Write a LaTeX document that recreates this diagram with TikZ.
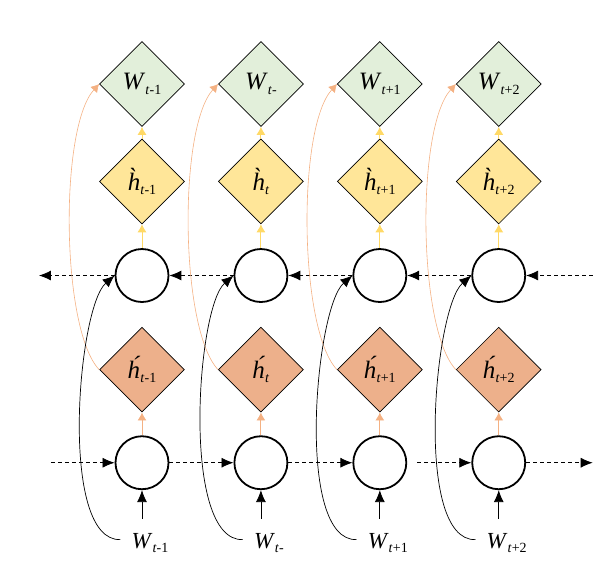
\documentclass[tikz,border=0pt]{standalone}
\usepackage{fontspec}
\setmainfont{Liberation Serif}
\usetikzlibrary{matrix, arrows.meta, shapes.geometric, calc}

\newcommand{\idx}[1]{\raisebox{-4.5pt}{\fontsize{14}{14}\selectfont #1}}

\definecolor{wfill}{HTML}{E2EFDA}
\definecolor{hgfill}{HTML}{FFE699}
\definecolor{hafill}{HTML}{EDB08B}
\definecolor{ylw}{HTML}{FFD966}
\definecolor{org}{HTML}{F4B183}

\begin{document}
\begin{tikzpicture}[x=1pt, y=1pt, >={Latex[length=12pt,width=10pt]},
  box/.style={draw, diamond, aspect=1, minimum size=85pt, inner sep=0pt, line width=0.7pt, anchor=center, font=\fontsize{25}{27}\selectfont},
  unit/.style={draw, circle, minimum size=53pt, inner sep=0pt, line width=1.8pt, anchor=center},
  lab/.style={inner sep=0pt, text height=16pt, text depth=5pt, xshift=8pt, anchor=center, font=\fontsize{23}{25}\selectfont},
  flow/.style={->, dash pattern=on 4pt off 3pt, line width=0.8pt},
  ylwarr/.style={-{Latex[length=8pt,width=9pt]}, draw=ylw, line width=0.9pt},
  orgarr/.style={-{Latex[length=8pt,width=9pt]}, draw=org, line width=0.9pt}]
\matrix (m) [matrix of nodes, nodes in empty cells, column sep=33.5pt, row sep=0pt,
  row 1/.style={nodes={box, fill=wfill}},
  row 2/.style={nodes={box, fill=hgfill}},
  row 3/.style={nodes={unit}},
  row 4/.style={nodes={box, fill=hafill}},
  row 5/.style={nodes={unit}},
  row 6/.style={nodes={lab}}]{
\textit{W}\idx{\textit{t}-1} & \textit{W}\idx{\textit{t}-} & \textit{W}\idx{\textit{t}+1} & \textit{W}\idx{\textit{t}+2} \\[12pt]
\textit{\`h}\idx{\textit{t}-1} & \textit{\`h}\idx{\textit{t}} & \textit{\`h}\idx{\textit{t}+1} & \textit{\`h}\idx{\textit{t}+2} \\[24pt]
 & & & \\[24pt]
\textit{\'h}\idx{\textit{t}-1} & \textit{\'h}\idx{\textit{t}} & \textit{\'h}\idx{\textit{t}+1} & \textit{\'h}\idx{\textit{t}+2} \\[23pt]
 & & & \\[42pt]
\textit{W}\idx{\textit{t}-1} & \textit{W}\idx{\textit{t}-} & \textit{W}\idx{\textit{t}+1} & \textit{W}\idx{\textit{t}+2} \\
};
\useasboundingbox ($(m-1-1)+(-142,84)$) rectangle ($(m-1-1)+(466,-479)$);

% free ends of the dashed rows
\coordinate (ul) at ($(m-3-1)+(-103,0)$);
\coordinate (ur) at ($(m-3-4)+(94,0)$);
\coordinate (ll) at ($(m-5-1)+(-91,0)$);
\coordinate (lr) at ($(m-5-4)+(94,0)$);

% backward row
\draw[flow] (m-3-1.west) -- (ul);
\foreach \j [count=\i] in {2,3,4}
  \draw[flow] (m-3-\j.west) -- (m-3-\i.east);
\draw[flow] (ur) -- (m-3-4.east);

% forward row
\draw[flow] (ll) -- (m-5-1.west);
\draw[flow] (m-5-1.east) -- (m-5-2.west);
\draw[flow] (m-5-2.east) -- (m-5-3.west);
\draw[flow, shorten <=10pt] (m-5-3.east) -- (m-5-4.west);
\draw[flow] (m-5-4.east) -- (lr);

\foreach \j in {1,...,4}{
  \draw[ylwarr] (m-2-\j.north) -- (m-1-\j.south);
  \draw[ylwarr] (m-3-\j.north) -- (m-2-\j.south);
  \draw[orgarr] (m-5-\j.north) -- (m-4-\j.south);
  \draw[->, line width=0.8pt, shorten <=13pt] (m-6-\j.north -| m-5-\j.south) -- (m-5-\j.south);
  \draw[orgarr, line width=0.6pt] (m-4-\j.west) .. controls +(-38,40) and +(-40,-44) .. (m-1-\j.west);
  \draw[->, line width=0.7pt] ([xshift=-11pt,yshift=3pt]m-6-\j.west) .. controls +(-62,-2) and +(-37,-32) .. (m-3-\j.west);
}
\end{tikzpicture}
\end{document}
